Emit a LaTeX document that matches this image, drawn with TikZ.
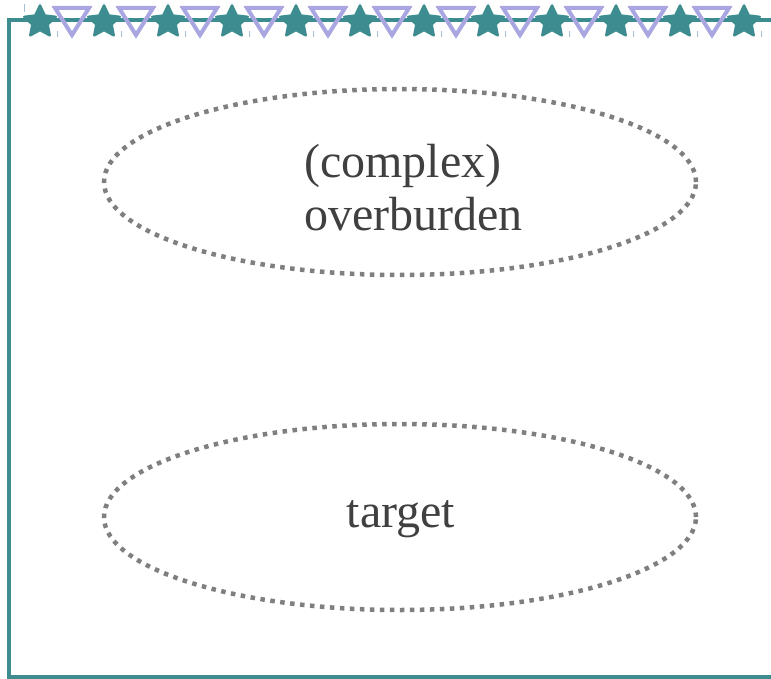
\documentclass[tikz,border=0pt]{standalone}
\usepackage{fontspec}
\setmainfont{Liberation Serif}
\usetikzlibrary{shapes.geometric}
\definecolor{frameteal}{HTML}{3D8C90}
\definecolor{lavender}{HTML}{A9A6E2}
\definecolor{tickblue}{HTML}{A8BCD4}
\definecolor{textgray}{HTML}{404040}
\definecolor{dotgray}{HTML}{7F7F7F}
\tikzset{
  frame/.style={draw=frameteal, line width=4.5pt},
  zone/.style={ellipse, draw=dotgray, line width=4.5pt, dash pattern=on 4.5pt off 5.5pt,
    minimum width=592pt, minimum height=186pt, inner sep=0pt},
  label/.style={text=textgray, font=\fontsize{48}{53}\selectfont, inner sep=0pt},
  starmark/.style={fill=frameteal, draw=frameteal, line width=2.5pt, line join=round},
  trimark/.style={draw=lavender, line width=4pt, line join=miter},
  tickmark/.style={draw=tickblue, line width=1pt}
}
\begin{document}
\begin{tikzpicture}[x=1pt,y=-1pt]
  \useasboundingbox (0,0) rectangle (771,679);
  % open frame: top, left and bottom edges
  \coordinate (topright) at (775,20);
  \coordinate (corner1) at (9,20);
  \coordinate (corner2) at (9,677);
  \coordinate (botright) at (775,677);
  \draw[frame] (topright) -- (corner1) -- (corner2) -- (botright);
  % faint ticks along the top edge
  \draw[tickmark] (24,4) -- (24,12);
  \foreach \k in {0,...,11} {
    \draw[tickmark] ({57+64*\k},31) -- ({57+64*\k},37);
  }
  % stars on the top edge
  \foreach \k in {0,...,11} {
    \filldraw[starmark] ({40+64*\k},22)
      +(270:16.5) -- +(306:8) -- +(342:16.5) -- +(18:8) -- +(54:16.5)
      -- +(90:8) -- +(126:16.5) -- +(162:8) -- +(198:16.5) -- +(234:8) -- cycle;
  }
  % open downward triangles between the stars
  \foreach \k in {0,...,10} {
    \draw[trimark] ({55+64*\k},8) -- ({89+64*\k},8) -- ({72+64*\k},35) -- cycle;
  }
  % layers
  \node[zone] (overburden) at (400,182) {};
  \node[zone] (target) at (400,517) {};
  \node[label, align=left, anchor=base west] (overburdentext) at (304,230)
    {(complex)\\overburden};
  \node[label, anchor=base] (targettext) at (401,527) {target};
\end{tikzpicture}
\end{document}
